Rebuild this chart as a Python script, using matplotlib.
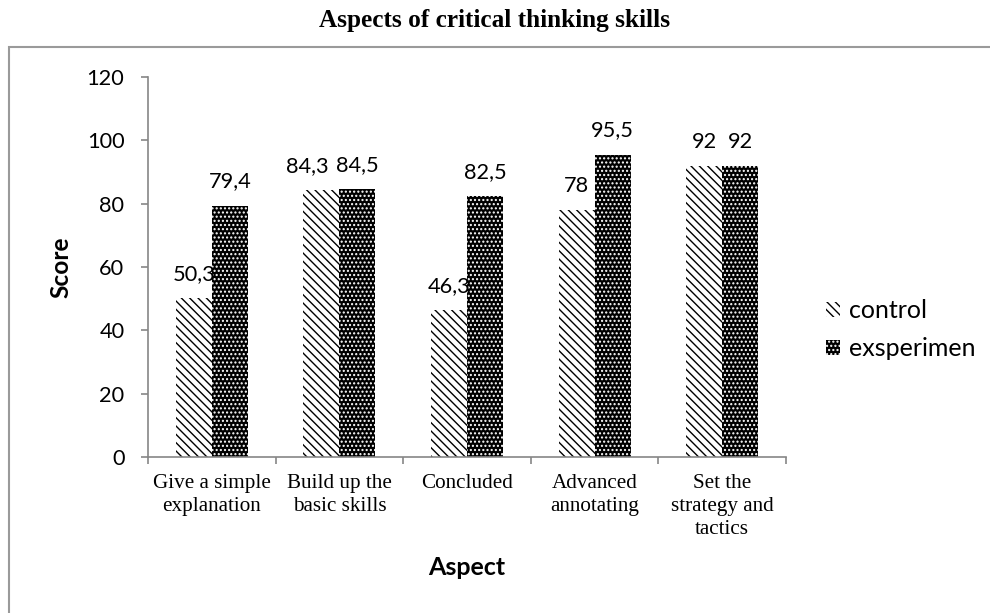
import matplotlib
matplotlib.use("Agg")
import matplotlib.pyplot as plt
import numpy as np
from matplotlib.patches import Rectangle

categories = ["Give a simple\nexplanation", "Build up the\nbasic skills", "Concluded",
              "Advanced\nannotating", "Set the\nstrategy and\ntactics"]
control = [50.3, 84.3, 46.3, 78, 92]
exsperimen = [79.4, 84.5, 82.5, 95.5, 92]
series_names = ["control", "exsperimen"]
yticks = [0, 20, 40, 60, 80, 100, 120]
# horizontal nudges (points) of control labels that would collide with neighbours
control_label_dx = [0, -10, 0, 0, 0]

sans = "Lato"
serif = "Liberation Serif"
plt.rcParams['hatch.linewidth'] = 1.0

W, H = 990, 613
fig = plt.figure(figsize=(W / 100, H / 100), dpi=100)
ax = fig.add_axes([148 / W, 1 - 457 / H, (786 - 148) / W, (457 - 77) / H])

# outer border
fig.patches.append(Rectangle((9 / W, -0.1), 1.2, 1 - 47 / H + 0.1, transform=fig.transFigure,
                             fill=False, edgecolor="#9a9a9a", linewidth=1.5))

x = np.arange(len(categories))
bw = 0.282
ax.bar(x - bw / 2, control, bw, facecolor="white", edgecolor="black", linewidth=0,
       hatch="\\\\\\\\", label=series_names[0])
ax.bar(x + bw / 2, exsperimen, bw, facecolor="black", edgecolor="white", linewidth=0,
       hatch="....", label=series_names[1])


def fmt(v):
    return f"{v:g}".replace(".", ",")


for xi, v, dx in zip(x - bw / 2, control, control_label_dx):
    ax.annotate(fmt(v), (xi, v), xytext=(dx, 13), textcoords="offset points", ha="center",
                va="baseline", fontsize=15.7, family=sans)
for xi, v in zip(x + bw / 2, exsperimen):
    ax.annotate(fmt(v), (xi, v), xytext=(0, 13), textcoords="offset points", ha="center",
                va="baseline", fontsize=15.7, family=sans)

ax.set_xlim(-0.5, len(categories) - 0.5)
ax.set_ylim(0, 120)
ax.set_yticks(yticks)
ax.set_yticklabels([str(t) for t in yticks], fontsize=15.7, family=sans)
ax.set_xticks(np.arange(len(categories) + 1) - 0.5)
ax.set_xticklabels([])
ax.set_xticks(x, minor=True)
ax.set_xticklabels(categories, minor=True, fontsize=15.2, family=serif, linespacing=1.28)
ax.tick_params(axis="x", which="minor", length=0, pad=12)
ax.tick_params(axis="x", which="major", length=5, color="#868686", direction="out", width=1.2)
ax.tick_params(axis="y", length=5, color="#868686", direction="out", pad=12, width=1.2)
for s in ["top", "right"]:
    ax.spines[s].set_visible(False)
for s in ["left", "bottom"]:
    ax.spines[s].set_color("#868686")
    ax.spines[s].set_linewidth(1.2)

ax.set_ylabel("Score", fontsize=17.6, family=sans, fontweight="bold")
ax.yaxis.set_label_coords((72 - 148) / 638, 0.5)
ax.set_xlabel("Aspect", fontsize=18, family=sans, fontweight="bold")
ax.xaxis.set_label_coords(0.5, -(556 - 457) / 380)
fig.text(0.5, 1 - 21 / H, "Aspects of critical thinking skills", ha="center", va="center",
         fontsize=18.2, family=serif, fontweight="bold")

leg = fig.legend(loc="center left", bbox_to_anchor=(826 / W, 1 - 330 / H), frameon=False,
                 prop={"family": sans, "size": 18}, handlelength=0.55, handleheight=0.55,
                 handletextpad=0.35, labelspacing=0.6, borderpad=0, borderaxespad=0)

fig.savefig("out.png", dpi=100)
